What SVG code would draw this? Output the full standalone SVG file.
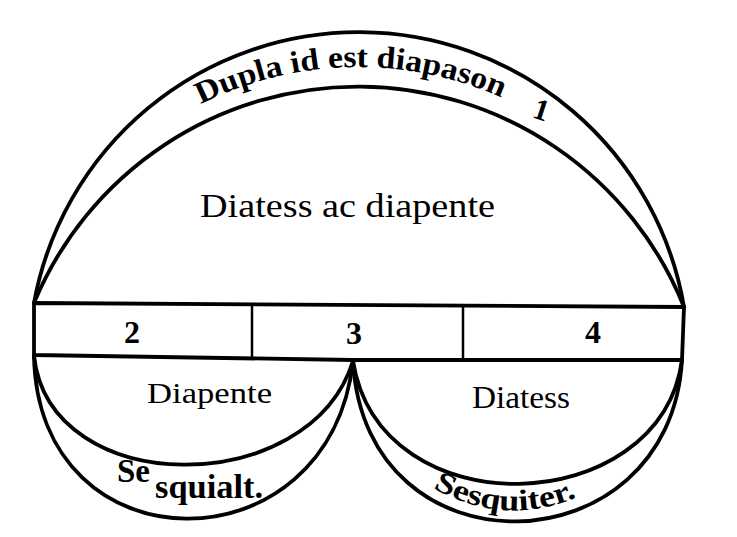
<svg xmlns="http://www.w3.org/2000/svg" width="737" height="537" viewBox="0 0 737 537">
<style>
.ln{fill:none;stroke:#000;stroke-width:3.8;stroke-linecap:round;stroke-linejoin:round}
.dv{fill:none;stroke:#000;stroke-width:2.5}
.t{font-family:"Liberation Serif","DejaVu Serif",serif;fill:#000}
.b{font-weight:bold}
</style>
<defs>
<path id="duplaPath" d="M7,418 A351,351 0 0 1 709,418"/>
<path id="sesquiterPath" d="M431,487 Q512,533 594,489"/>
</defs>
<rect width="737" height="537" fill="#fff"/>
<g id="arcs">
<g id="arc-dupla"><path class="ln" d="M34,303 A330,330 0 0 1 684,307"/></g>
<g id="arc-diatess-ac-diapente"><path class="ln" d="M34,303 A351,351 0 0 1 684,307"/></g>
<g id="arc-diapente"><path class="ln" d="M34,356 C50,500 310,500 353,361"/></g>
<g id="arc-sesquialt"><path class="ln" d="M34,356 C38,572 330,572 353,361"/></g>
<g id="arc-diatess"><path class="ln" d="M353,361 C380,530 660,520 682,360"/></g>
<g id="arc-sesquiter"><path class="ln" d="M353,361 C365,580 670,570 682,360"/></g>
</g>
<g id="bar">
<path class="ln" d="M34,303 L684,307 L682,360 L353,360 L34,355 Z"/>
<line class="dv" x1="252" y1="305" x2="252" y2="357"/>
<line class="dv" x1="463" y1="307" x2="463" y2="359"/>
</g>
<g id="cell-2"><text class="t b" x="132" y="343" font-size="32" text-anchor="middle">2</text></g>
<g id="cell-3"><text class="t b" x="354" y="344" font-size="32" text-anchor="middle">3</text></g>
<g id="cell-4"><text class="t b" x="593" y="343" font-size="32" text-anchor="middle">4</text></g>
<g id="label-dupla">
<text class="t b" font-size="31"><textPath href="#duplaPath" startOffset="388" textLength="311" lengthAdjust="spacingAndGlyphs">Dupla id est diapason</textPath></text>
<text class="t b" x="542" y="120" font-size="30" text-anchor="middle" transform="rotate(18 542 108)">1</text>
</g>
<g id="label-diatess-ac-diapente"><text class="t" x="200" y="217" font-size="33" textLength="295" lengthAdjust="spacingAndGlyphs">Diatess ac diapente</text></g>
<g id="label-diapente"><text class="t" x="147" y="403" font-size="30" textLength="125" lengthAdjust="spacingAndGlyphs">Diapente</text></g>
<g id="label-diatess"><text class="t" x="472" y="408" font-size="31" textLength="98" lengthAdjust="spacingAndGlyphs">Diatess</text></g>
<g id="label-sesquialt"><text class="t b" x="117" y="482" font-size="33">Se<tspan x="155" y="498" textLength="108" lengthAdjust="spacingAndGlyphs">squialt.</tspan></text></g>
<g id="label-sesquiter"><text class="t b" font-size="30"><textPath href="#sesquiterPath" startOffset="2" textLength="150" lengthAdjust="spacingAndGlyphs">Sesquiter.</textPath></text></g>
</svg>
